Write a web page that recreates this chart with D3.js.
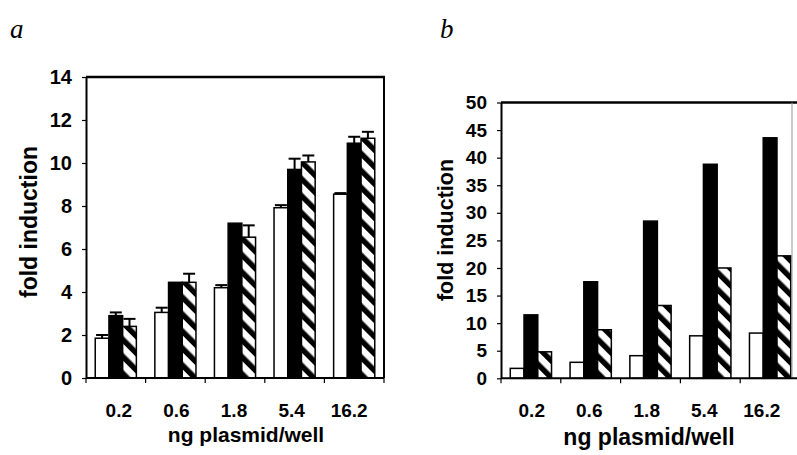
<!DOCTYPE html>
<html>
<head>
<meta charset="utf-8">
<script src="https://cdn.jsdelivr.net/npm/d3@7"></script>
<style>
    html, body { margin: 0; padding: 0; background: #fff; }
    svg { display: block; }
    text { font-family: "Liberation Sans", Arial, sans-serif; font-weight: bold; fill: #000; }
    .panel-letter { font-family: "Liberation Serif", serif; font-style: italic; font-weight: normal; }
</style>
</head>
<body>
<div id="chart"></div>
<script>
// doses on the x axis (same for both panels)
const doses = ['0.2', '0.6', '1.8', '5.4', '16.2'];

// panel a: open / solid / hatched bars with SEM
const aOpen = [1.85, 3.05, 4.2, 7.92, 8.55];
const aOpenErr = [0.15, 0.22, 0.12, 0.12, 0.05];
const aSolid = [2.9, 4.45, 7.2, 9.7, 10.92];
const aSolidErr = [0.15, 0, 0, 0.5, 0.3];
const aHatched = [2.4, 4.45, 6.55, 10.05, 11.15];
const aHatchedErr = [0.35, 0.4, 0.55, 0.3, 0.3];
const aTicks = [0, 2, 4, 6, 8, 10, 12, 14];

// panel b: no error bars
const bOpen = [1.8, 2.9, 4.1, 7.7, 8.2];
const bSolid = [11.5, 17.5, 28.5, 38.8, 43.6];
const bHatched = [4.8, 8.8, 13.2, 20.0, 22.2];
const bTicks = [0, 5, 10, 15, 20, 25, 30, 35, 40, 45, 50];

const seriesKeys = ['open', 'solid', 'hatched'];

const W = 797, H = 455;

const svg = d3.select('#chart')
    .append('svg')
    .attr('width', W)
    .attr('height', H);

// hatch: black stripes running top-left -> bottom-right
const defs = svg.append('defs');
const pat = defs.append('pattern')
    .attr('id', 'hatch')
    .attr('patternUnits', 'userSpaceOnUse')
    .attr('width', 12)
    .attr('height', 12)
    .attr('patternTransform', 'rotate(-45)');
pat.append('rect').attr('width', 12).attr('height', 12).attr('fill', '#fff');
pat.append('rect').attr('width', 5.5).attr('height', 12).attr('fill', '#000');

const FILLS = { open: '#fff', solid: '#000', hatched: 'url(#hatch)' };

function drawPanel(cfg) {
    const g = svg.append('g');

    const x = d3.scaleBand()
        .domain(doses)
        .range(cfg.xRange)
        .paddingInner(0.31)
        .paddingOuter(0.155);
    const xSub = d3.scaleBand()
        .domain(seriesKeys)
        .range([0, x.bandwidth()]);
    // tick labels sit on a slightly tighter spacing than the bars
    const xLab = d3.scaleBand().domain(doses).range(cfg.labelRange);

    const y = d3.scaleLinear()
        .domain([0, d3.max(cfg.ticks)])
        .range(cfg.yRange);

    // bars
    seriesKeys.forEach(key => {
        const vals = cfg.series[key];
        const errs = cfg.errors ? cfg.errors[key] : null;
        const rows = doses.map((d, i) => ({ dose: d, v: vals[i], e: errs ? errs[i] : 0 }));

        g.selectAll(null)
            .data(rows)
            .enter()
            .append('rect')
            .attr('x', d => x(d.dose) + xSub(key))
            .attr('y', d => y(d.v))
            .attr('width', xSub.bandwidth())
            .attr('height', d => y(0) - y(d.v))
            .attr('fill', FILLS[key])
            .attr('stroke', '#000')
            .attr('stroke-width', 1.5);

        if (errs) {
            const eb = g.selectAll(null)
                .data(rows.filter(d => d.e > 0))
                .enter()
                .append('g')
                .attr('stroke', '#000')
                .attr('stroke-width', 2);
            const cx = d => x(d.dose) + xSub(key) + xSub.bandwidth() / 2;
            eb.append('line')
                .attr('x1', cx).attr('x2', cx)
                .attr('y1', d => y(d.v)).attr('y2', d => y(d.v + d.e));
            eb.append('line')
                .attr('x1', d => cx(d) - 6).attr('x2', d => cx(d) + 6)
                .attr('y1', d => y(d.v + d.e)).attr('y2', d => y(d.v + d.e));
        }
    });

    const [x0, x1] = cfg.xRange;
    const [yb, yt] = cfg.yRange;

    // frame top + right
    g.append('line')
        .attr('x1', x0).attr('x2', cfg.frameTopEnd)
        .attr('y1', yt).attr('y2', yt)
        .attr('stroke', '#000').attr('stroke-width', 2.5);
    g.append('line')
        .attr('x1', cfg.frameRight).attr('x2', cfg.frameRight)
        .attr('y1', yt).attr('y2', yb)
        .attr('stroke', cfg.frameRightColor).attr('stroke-width', cfg.frameRightWidth);

    // y axis
    const yAxis = g.append('g')
        .attr('transform', `translate(${x0},0)`)
        .call(d3.axisLeft(y).tickValues(cfg.ticks).tickSize(4).tickPadding(10).tickSizeOuter(0));
    yAxis.select('.domain').attr('stroke-width', 2);
    yAxis.selectAll('.tick line').attr('stroke-width', 1.2);
    yAxis.selectAll('.tick text')
        .style('font-size', cfg.yTickSize + 'px')
        .style('font-family', '"Liberation Sans", Arial, sans-serif')
        .style('font-weight', 'bold');

    // x axis line with ticks at group boundaries
    g.append('line')
        .attr('x1', x0).attr('x2', x1)
        .attr('y1', yb).attr('y2', yb)
        .attr('stroke', '#000').attr('stroke-width', 2);
    const bounds = doses.map(d => x(d) - x.step() * x.paddingOuter());
    bounds.push(x1);
    g.selectAll(null)
        .data(bounds)
        .enter()
        .append('line')
        .attr('x1', d => d).attr('x2', d => d)
        .attr('y1', yb).attr('y2', yb + 5)
        .attr('stroke', '#000').attr('stroke-width', 1.2);

    g.selectAll(null)
        .data(doses)
        .enter()
        .append('text')
        .attr('x', d => xLab(d) + xLab.bandwidth() / 2)
        .attr('y', 417)
        .attr('text-anchor', 'middle')
        .style('font-size', '19px')
        .text(d => d);

    // axis titles
    g.append('text')
        .attr('x', cfg.xTitleX)
        .attr('y', cfg.xTitleY)
        .attr('text-anchor', 'middle')
        .style('font-size', cfg.xTitleSize + 'px')
        .text('ng plasmid/well');
    g.append('text')
        .attr('transform', `translate(${cfg.yTitleX},${cfg.yTitleY}) rotate(-90)`)
        .attr('text-anchor', 'middle')
        .style('font-size', cfg.yTitleSize + 'px')
        .text('fold induction');

    // panel letter
    svg.append('text')
        .attr('class', 'panel-letter')
        .attr('x', cfg.letterX)
        .attr('y', 38)
        .style('font-size', '27px')
        .text(cfg.letter);
}

drawPanel({
    letter: 'a', letterX: 10,
    series: { open: aOpen, solid: aSolid, hatched: aHatched },
    errors: { open: aOpenErr, solid: aSolidErr, hatched: aHatchedErr },
    ticks: aTicks,
    xRange: [86, 384], yRange: [378, 77],
    labelRange: [90, 378],
    frameTopEnd: 385, frameRight: 384, frameRightColor: '#000', frameRightWidth: 2,
    yTickSize: 20,
    xTitleX: 246, xTitleY: 442, xTitleSize: 21,
    yTitleX: 37, yTitleY: 222, yTitleSize: 23
});

drawPanel({
    letter: 'b', letterX: 440,
    series: { open: bOpen, solid: bSolid, hatched: bHatched },
    errors: null,
    ticks: bTicks,
    xRange: [501, 800], yRange: [378.3, 102.5],
    labelRange: [503, 790.5],
    frameTopEnd: 797, frameRight: 792, frameRightColor: '#999', frameRightWidth: 1,
    yTickSize: 19,
    xTitleX: 649, xTitleY: 445, xTitleSize: 23,
    yTitleX: 453, yTitleY: 230, yTitleSize: 21.5
});
</script>
</body>
</html>
